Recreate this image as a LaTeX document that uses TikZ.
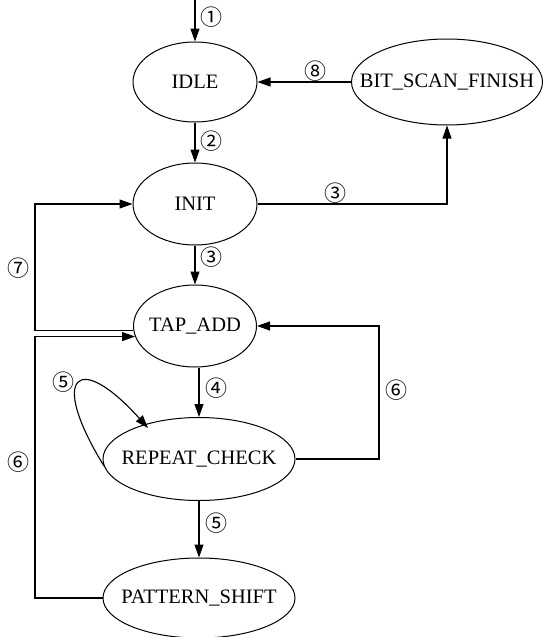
\documentclass[tikz,border=0pt]{standalone}
\usepackage{fontspec}
\setmainfont{Liberation Serif}
\newfontfamily\circfont{Noto Sans CJK SC}
\usetikzlibrary{shapes.geometric,arrows.meta}
\tikzset{
  state/.style={draw, ellipse, line width=1pt, inner sep=0pt},
  arr/.style={draw, line width=1.1pt, -{Triangle[length=13pt,width=9pt]}},
  num/.style={font=\circfont\fontsize{22}{24}\selectfont, inner sep=0pt},
  lbl/.style={font=\fontsize{20.5}{23}\selectfont}
}
\begin{document}
\begin{tikzpicture}[x=1pt,y=-1pt]
\useasboundingbox (0,0) rectangle (548,637);
\node[state, minimum width=124pt, minimum height=80pt, label={[lbl]center:IDLE}] (idle) at (195,82) {};
\node[state, minimum width=191pt, minimum height=86pt, label={[lbl]center:BIT\_SCAN\_FINISH}] (bsf) at (447,82) {};
\node[state, minimum width=124pt, minimum height=82pt, label={[lbl]center:INIT}] (init) at (195,204) {};
\node[state, minimum width=123pt, minimum height=82pt, label={[lbl]center:TAP\_ADD}] (tap) at (195,326) {};
\node[state, minimum width=192pt, minimum height=83pt, label={[lbl]center:REPEAT\_CHECK}] (rc) at (199,459) {};
\node[state, minimum width=192pt, minimum height=80pt, label={[lbl]center:PATTERN\_SHIFT}] (ps) at (199,598) {};

\coordinate (start) at (195,0);
\coordinate (lx) at (35,0);
\coordinate (rx) at (379,0);

\draw[arr] (start) -- (idle.north);
\draw[arr] (bsf.west) -- (idle.east);
\draw[arr] (idle.south) -- (init.north);
\draw[arr] (init.east) -| (bsf.south);
\draw[arr] (init.south) -- (tap.north);
\draw[arr] (tap.184) -| (lx |- init.west) -- (init.west);
\draw[arr] (ps.west) -| (lx |- tap.190) -- (tap.190);
\draw[arr] (rc.north |- tap.south) -- (rc.north);
\draw[arr] (rc.east) -| (rx |- tap.east) -- (tap.east);
\coordinate (loopst) at (104,466);
\coordinate (loopen) at (148,428);
\draw[arr] (loopst) .. controls (48,375) and (78,350) .. (loopen);
\draw[arr] (rc.south) -- (ps.north);

\node[num] (n1) at (211,17) {①};
\node[num] (n8) at (315,71) {⑧};
\node[num] (n2) at (211,141) {②};
\node[num] (n3a) at (335,193) {③};
\node[num] (n3b) at (211,257) {③};
\node[num] (n7) at (19,268) {⑦};
\node[num] (n4) at (216,388) {④};
\node[num] (n6a) at (396,390) {⑥};
\node[num] (n5a) at (63,382) {⑤};
\node[num] (n6b) at (19,462) {⑥};
\node[num] (n5b) at (216,523) {⑤};
\end{tikzpicture}
\end{document}
